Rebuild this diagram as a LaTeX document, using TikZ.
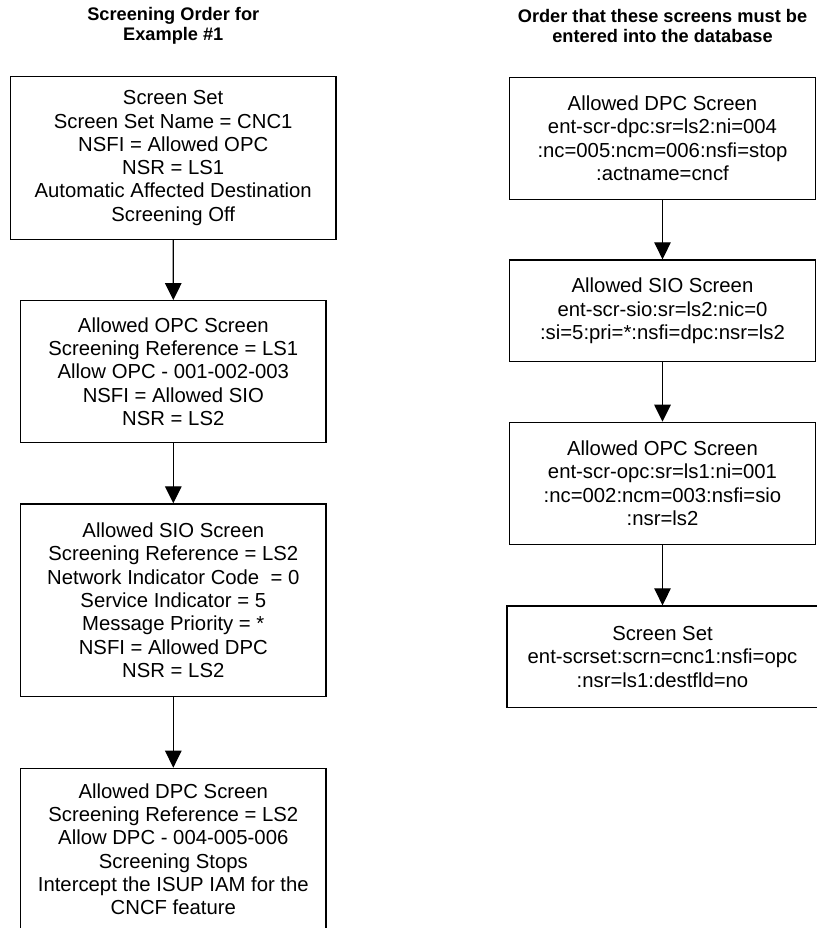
\documentclass[tikz,border=0pt]{standalone}
\usepackage{fontspec}
\setmainfont{Liberation Sans}
\usetikzlibrary{arrows.meta}
\begin{document}
\begin{tikzpicture}[x=1pt,y=-1pt,
  box/.style={draw, line width=1.2pt, inner sep=0pt, align=center,
    font=\fontsize{20.3}{23.3}\selectfont},
  ttl/.style={inner sep=0pt, align=center, font=\fontsize{18.2}{20}\selectfont\bfseries},
  link/.style={line width=1.2pt, -{Triangle[width=16.5pt,length=17pt]}}]
\useasboundingbox (0,0) rectangle (816,928);
% titles
\node[ttl] (tl) at (173.3,26) {Screening Order for\\Example \#1};
\node[ttl] (tr) at (662.5,26) {Order that these screens must be\\entered into the database};
% left column
\node[box, minimum width=325.7pt, minimum height=162.6pt] (l1) at (173.2,158)
  {Screen Set\\Screen Set Name = CNC1\\NSFI = Allowed OPC\\NSR = LS1\\Automatic Affected Destination\\Screening Off};
\node[box, minimum width=305.3pt, minimum height=142pt] (l2) at (173.3,371.7)
  {Allowed OPC Screen\\Screening Reference = LS1\\Allow OPC - 001-002-003\\NSFI = Allowed SIO\\NSR = LS2};
\node[box, minimum width=305.3pt, minimum height=192.7pt] (l3) at (173.3,600.3)
  {Allowed SIO Screen\\Screening Reference = LS2\\Network Indicator Code\ \ = 0\\Service Indicator = 5\\Message Priority = *\\NSFI = Allowed DPC\\NSR = LS2};
\node[box, minimum width=305.3pt, minimum height=162pt] (l4) at (173.3,849.3)
  {Allowed DPC Screen\\Screening Reference = LS2\\Allow DPC - 004-005-006\\Screening Stops\\Intercept the ISUP IAM for the\\CNCF feature};
% right column
\node[box, minimum width=305.6pt, minimum height=122pt] (r1) at (662.5,138.3)
  {Allowed DPC Screen\\ent-scr-dpc:sr=ls2:ni=004\\:nc=005:ncm=006:nsfi=stop\\:actname=cncf};
\node[box, minimum width=305.6pt, minimum height=101.7pt] (r2) at (662.5,310.8)
  {Allowed SIO Screen\\ent-scr-sio:sr=ls2:nic=0\\:si=5:pri=*:nsfi=dpc:nsr=ls2};
\node[box, minimum width=305.6pt, minimum height=122pt] (r3) at (662.5,483.3)
  {Allowed OPC Screen\\ent-scr-opc:sr=ls1:ni=001\\:nc=002:ncm=003:nsfi=sio\\:nsr=ls2};
\node[box, minimum width=311pt, minimum height=101.7pt] (r4) at (662.5,656.8)
  {Screen Set\\ent-scrset:scrn=cnc1:nsfi=opc\\:nsr=ls1:destfld=no};
% connectors
\draw[link] (l1.south) -- (l2.north);
\draw[link] (l2.south) -- (l3.north);
\draw[link] (l3.south) -- (l4.north);
\draw[link] (r1.south) -- (r2.north);
\draw[link] (r2.south) -- (r3.north);
\draw[link] (r3.south) -- (r4.north);
\end{tikzpicture}
\end{document}
